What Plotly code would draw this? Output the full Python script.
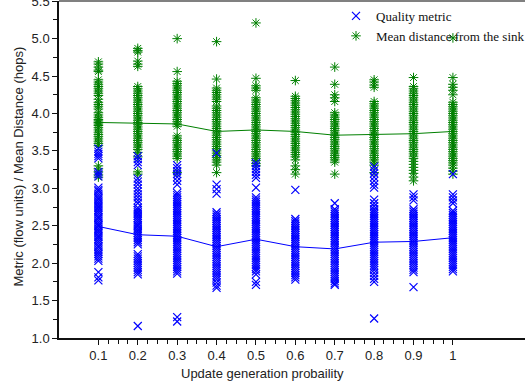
import plotly.graph_objects as go

# Update generation probability (x categories)
probs = [0.1, 0.2, 0.3, 0.4, 0.5, 0.6, 0.7, 0.8, 0.9, 1.0]
prob_labels = ["0.1", "0.2", "0.3", "0.4", "0.5", "0.6", "0.7", "0.8", "0.9", "1"]

# Quality metric (flow units), one list of runs per probability
quality_01 = [3.53, 3.49, 3.46, 3.43, 3.40, 3.22, 3.19, 3.16,
              3.01, 2.98, 2.96, 2.93, 2.90, 2.87, 2.85, 2.82, 2.79, 2.76, 2.74, 2.71,
              2.68, 2.65, 2.62, 2.60, 2.57, 2.54, 2.51, 2.49, 2.46, 2.43, 2.40, 2.37,
              2.35, 2.32, 2.29, 2.26, 2.23, 2.21, 2.18, 2.15, 2.12, 2.09, 2.06, 2.03,
              1.88, 1.81, 1.77]
quality_02 = [3.43, 3.39, 3.35, 3.31, 3.13, 3.09, 3.05, 3.00, 2.96, 2.92, 2.88, 2.84,
              2.80, 2.74, 2.71, 2.68, 2.66, 2.63, 2.60, 2.57, 2.54, 2.51, 2.49, 2.46,
              2.43, 2.40, 2.37, 2.34, 2.31, 2.28, 2.25, 2.12, 2.09, 2.06, 2.03, 2.00,
              1.97, 1.94, 1.91, 1.88, 1.85, 1.16]
quality_03 = [3.31, 3.27, 3.23, 3.19, 3.15, 3.10, 3.05, 2.94, 2.91, 2.88, 2.85, 2.82,
              2.79, 2.76, 2.73, 2.70, 2.67, 2.64, 2.61, 2.58, 2.55, 2.52, 2.49, 2.46,
              2.43, 2.40, 2.37, 2.34, 2.31, 2.28, 2.25, 2.22, 2.19, 2.16, 2.13, 2.10,
              2.07, 2.04, 2.01, 1.98, 1.95, 1.92, 1.89, 1.86, 1.28, 1.22]
quality_04 = [3.47, 3.05, 2.99, 2.93, 2.68, 2.65, 2.62, 2.59, 2.56, 2.53, 2.50, 2.47,
              2.44, 2.41, 2.38, 2.35, 2.32, 2.29, 2.26, 2.23, 2.20, 2.17, 2.14, 2.11,
              2.08, 2.05, 2.02, 1.99, 1.96, 1.93, 1.90, 1.87, 1.84, 1.81, 1.78, 1.74,
              1.70, 1.67]
quality_05 = [3.34, 3.30, 3.26, 3.22, 3.18, 3.14, 3.01, 2.88, 2.85, 2.82, 2.79, 2.76,
              2.73, 2.70, 2.67, 2.64, 2.61, 2.58, 2.55, 2.52, 2.49, 2.46, 2.43, 2.40,
              2.37, 2.34, 2.31, 2.28, 2.25, 2.22, 2.19, 2.16, 2.13, 2.10, 2.07, 2.04,
              2.01, 1.98, 1.95, 1.92, 1.89, 1.85, 1.75, 1.71]
quality_06 = [2.98, 2.59, 2.56, 2.53, 2.50, 2.47, 2.44, 2.41, 2.38, 2.35, 2.32, 2.29,
              2.26, 2.23, 2.20, 2.17, 2.14, 2.11, 2.08, 2.05, 2.02, 1.99, 1.96, 1.93,
              1.90, 1.87, 1.84, 1.81, 1.78]
quality_07 = [2.80, 2.72, 2.69, 2.66, 2.63, 2.60, 2.57, 2.54, 2.51, 2.48, 2.45, 2.42,
              2.39, 2.36, 2.33, 2.30, 2.27, 2.24, 2.21, 2.18, 2.15, 2.12, 2.09, 2.06,
              2.03, 2.00, 1.97, 1.94, 1.91, 1.88, 1.85, 1.82, 1.79, 1.76, 1.73, 1.71]
quality_08 = [3.29, 3.24, 3.20, 3.15, 3.10, 3.05, 3.01, 2.85, 2.80, 2.76, 2.72, 2.69,
              2.66, 2.63, 2.60, 2.57, 2.54, 2.51, 2.48, 2.45, 2.42, 2.39, 2.36, 2.33,
              2.30, 2.27, 2.24, 2.21, 2.18, 2.15, 2.12, 2.09, 2.06, 2.03, 2.00, 1.97,
              1.94, 1.91, 1.87, 1.83, 1.79, 1.75, 1.26]
quality_09 = [2.92, 2.88, 2.84, 2.72, 2.69, 2.66, 2.63, 2.60, 2.57, 2.54, 2.51, 2.48,
              2.45, 2.42, 2.39, 2.36, 2.33, 2.30, 2.27, 2.24, 2.21, 2.18, 2.15, 2.12,
              2.09, 2.06, 2.03, 2.00, 1.97, 1.94, 1.91, 1.88, 1.68]
quality_10 = [3.19, 2.92, 2.88, 2.84, 2.80, 2.70, 2.67, 2.64, 2.61, 2.58, 2.55, 2.52,
              2.49, 2.46, 2.43, 2.40, 2.37, 2.34, 2.31, 2.28, 2.25, 2.22, 2.19, 2.16,
              2.13, 2.10, 2.07, 2.04, 2.01, 1.98, 1.95, 1.92, 1.89]

# Mean distance from the sink (hops), one list of runs per probability
distance_01 = [4.69, 4.66, 4.62, 4.58, 4.56, 4.45, 4.42, 4.39, 4.36, 4.33, 4.30, 4.27,
               4.24, 4.19, 4.15, 4.12, 4.09, 4.06, 4.01, 3.98, 3.95, 3.92, 3.90, 3.88,
               3.86, 3.84, 3.81, 3.78, 3.75, 3.72, 3.69, 3.66, 3.63, 3.60, 3.57, 3.30,
               3.26, 3.22, 3.18, 3.15]
distance_02 = [4.87, 4.84, 4.82, 4.70, 4.66, 4.63, 4.36, 4.33, 4.30, 4.27, 4.24, 4.21,
               4.18, 4.15, 4.12, 4.09, 4.06, 4.03, 4.00, 3.97, 3.94, 3.91, 3.88, 3.85,
               3.82, 3.79, 3.76, 3.73, 3.70, 3.67, 3.64, 3.61, 3.58, 3.55, 3.52, 3.48,
               3.42, 3.22, 3.19]
distance_03 = [5.00, 4.56, 4.43, 4.40, 4.37, 4.34, 4.31, 4.28, 4.25, 4.22, 4.19, 4.16,
               4.13, 4.10, 4.07, 4.04, 4.01, 3.98, 3.95, 3.92, 3.89, 3.86, 3.83, 3.70,
               3.67, 3.64, 3.61, 3.58, 3.55, 3.52, 3.49, 3.46, 3.43, 3.40, 3.21]
distance_04 = [4.96, 4.46, 4.34, 4.31, 4.28, 4.25, 4.22, 4.19, 4.16, 4.10, 4.07, 4.04,
               4.01, 3.98, 3.95, 3.92, 3.89, 3.86, 3.83, 3.80, 3.77, 3.74, 3.71, 3.68,
               3.65, 3.62, 3.59, 3.56, 3.53, 3.50, 3.47, 3.44, 3.41, 3.38, 3.35, 3.31,
               3.21]
distance_05 = [5.21, 4.47, 4.37, 4.34, 4.31, 4.21, 4.18, 4.15, 4.12, 4.09, 4.06, 4.03,
               4.00, 3.97, 3.94, 3.91, 3.88, 3.85, 3.82, 3.79, 3.76, 3.73, 3.70, 3.67,
               3.64, 3.61, 3.58, 3.55, 3.52, 3.49, 3.46, 3.43, 3.40, 3.37, 3.33, 3.30]
distance_06 = [4.44, 4.23, 4.20, 4.17, 4.14, 4.11, 4.08, 4.05, 4.02, 3.99, 3.96, 3.93,
               3.90, 3.87, 3.84, 3.81, 3.78, 3.75, 3.72, 3.69, 3.66, 3.63, 3.60, 3.57,
               3.54, 3.51, 3.48, 3.45, 3.42, 3.38, 3.30, 3.25, 3.19]
distance_07 = [4.62, 4.39, 4.25, 4.21, 4.16, 4.01, 3.98, 3.95, 3.92, 3.89, 3.86, 3.83,
               3.80, 3.77, 3.74, 3.71, 3.68, 3.65, 3.62, 3.59, 3.56, 3.53, 3.50, 3.47,
               3.44, 3.41, 3.38, 3.35, 3.19]
distance_08 = [4.45, 4.42, 4.38, 4.35, 4.16, 4.13, 4.10, 4.07, 4.04, 4.01, 3.98, 3.95,
               3.92, 3.89, 3.86, 3.83, 3.80, 3.77, 3.74, 3.71, 3.68, 3.65, 3.62, 3.59,
               3.56, 3.53, 3.50, 3.47, 3.44, 3.41, 3.38, 3.35, 3.31, 3.21]
distance_09 = [4.48, 4.36, 4.33, 4.30, 4.27, 4.24, 4.21, 4.18, 4.15, 4.12, 4.09, 4.06,
               4.03, 4.00, 3.97, 3.94, 3.91, 3.88, 3.85, 3.82, 3.79, 3.76, 3.73, 3.70,
               3.67, 3.64, 3.61, 3.58, 3.55, 3.52, 3.49, 3.46, 3.43, 3.40, 3.36, 3.32,
               3.28, 3.24, 3.20, 3.15, 3.10]
distance_10 = [5.01, 4.48, 4.39, 4.35, 4.31, 4.25, 4.15, 4.12, 4.09, 4.06, 4.03, 4.00,
               3.97, 3.94, 3.91, 3.88, 3.85, 3.82, 3.79, 3.76, 3.73, 3.70, 3.67, 3.64,
               3.61, 3.58, 3.55, 3.52, 3.49, 3.46, 3.43, 3.40, 3.37, 3.34, 3.31, 3.27,
               3.23, 3.19]

# Averages per probability
quality_mean = [2.49, 2.38, 2.36, 2.22, 2.32, 2.22, 2.19, 2.28, 2.29, 2.34]
distance_mean = [3.88, 3.87, 3.86, 3.76, 3.78, 3.76, 3.71, 3.72, 3.73, 3.76]

quality_runs = [quality_01, quality_02, quality_03, quality_04, quality_05,
                quality_06, quality_07, quality_08, quality_09, quality_10]
distance_runs = [distance_01, distance_02, distance_03, distance_04, distance_05,
                 distance_06, distance_07, distance_08, distance_09, distance_10]


def flatten(runs):
    xs, ys = [], []
    for p, vals in zip(probs, runs):
        xs.extend([p] * len(vals))
        ys.extend(vals)
    return xs, ys


BLUE = "#0000ff"
GREEN = "#008000"
TICK_FONT = dict(family="Liberation Sans, Arial, sans-serif", size=13, color="#222222")

qx, qy = flatten(quality_runs)
dx, dy = flatten(distance_runs)

fig = go.Figure()

fig.add_trace(go.Scatter(
    x=probs, y=distance_mean, mode="lines", showlegend=False,
    line=dict(color=GREEN, width=1), hoverinfo="skip"))
fig.add_trace(go.Scatter(
    x=dx, y=dy, mode="markers", name="Mean distance from the sink",
    marker=dict(symbol="asterisk-open", size=8, color=GREEN,
                line=dict(color=GREEN, width=1))))
fig.add_trace(go.Scatter(
    x=probs, y=quality_mean, mode="lines", showlegend=False,
    line=dict(color=BLUE, width=1), hoverinfo="skip"))
fig.add_trace(go.Scatter(
    x=qx, y=qy, mode="markers", name="Quality metric",
    marker=dict(symbol="x-thin-open", size=8, color=BLUE,
                line=dict(color=BLUE, width=1.2))))

minor_x = [round(0.1 + 0.025 * i, 3) for i in range(37)]

fig.update_layout(
    width=530, height=385,
    margin=dict(l=59, r=0, t=1, b=47),
    paper_bgcolor="white", plot_bgcolor="white",
    showlegend=True,
    legend=dict(
        x=0.595, y=1.0, xanchor="left", yanchor="top",
        traceorder="reversed",
        font=dict(family="Liberation Serif, Times New Roman, serif", size=13, color="#111111"),
        bgcolor="rgba(0,0,0,0)", borderwidth=0, tracegroupgap=0,
    ),
    xaxis=dict(
        range=[0, 1.183], showgrid=False, zeroline=False, automargin=False,
        showline=True, linecolor="#111111", linewidth=1.5,
        ticks="outside", ticklen=5, tickwidth=1, tickcolor="#111111",
        tickmode="array", tickvals=probs, ticktext=prob_labels,
        tickfont=TICK_FONT,
        minor=dict(tickmode="array", tickvals=minor_x, ticks="outside",
                   ticklen=4, tickwidth=1, tickcolor="#111111", showgrid=False),
    ),
    yaxis=dict(
        range=[1.0, 5.503], showgrid=False, zeroline=False, automargin=False,
        showline=True, linecolor="#111111", linewidth=1.5,
        ticks="outside", ticklen=5, tickwidth=1, tickcolor="#111111",
        tickmode="linear", tick0=1.0, dtick=0.5, tickformat=".1f",
        tickfont=TICK_FONT, ticklabeloverflow="allow",
        minor=dict(dtick=0.25, tick0=1.0, ticks="outside", ticklen=4,
                   tickwidth=1, tickcolor="#111111", showgrid=False),
    ),
    shapes=[dict(type="line", xref="paper", yref="paper", x0=0, x1=1, y0=1, y1=1,
                 line=dict(color="#808080", width=2))],
    annotations=[
        dict(text="Update generation probaility", xref="paper", yref="paper",
             x=0.437, y=-0.105, xanchor="center", yanchor="middle", showarrow=False,
             font=TICK_FONT),
        dict(text="Metric (flow units) / Mean Distance (hops)", xref="paper", yref="paper",
             x=-0.087, y=0.51, xanchor="center", yanchor="middle", showarrow=False,
             textangle=-90, font=TICK_FONT),
    ],
)

fig.write_html("out.html")
